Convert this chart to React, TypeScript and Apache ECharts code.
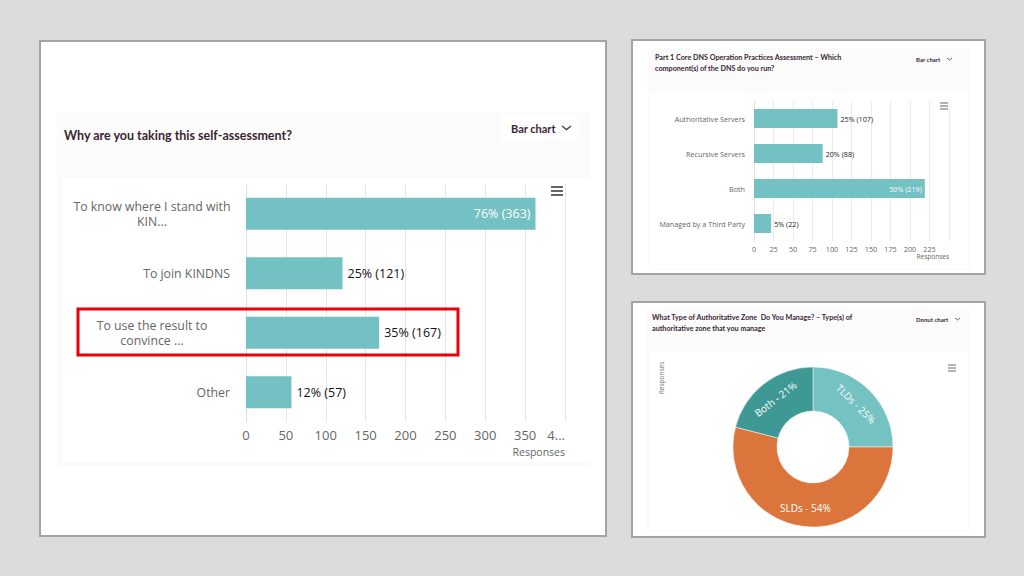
import React, { useEffect, useRef } from "react";
import * as echarts from "echarts";

// ---- Panel 1: Why are you taking this self-assessment? ----
const leftCats = ["To know where I stand with\nKIN...", "To join KINDNS", "To use the result to\nconvince ...", "Other"];
const leftCounts = [363, 121, 167, 57];
const leftPcts = [76, 25, 35, 12];
const leftTicks = ["0", "50", "100", "150", "200", "250", "300", "350", "4..."];

// ---- Panel 2: Which component(s) of the DNS do you run? ----
const dnsCats = ["Authoritative Servers", "Recursive Servers", "Both", "Managed by a Third Party"];
const dnsCounts = [107, 88, 219, 22];
const dnsPcts = [25, 20, 50, 5];
const dnsTicks = ["0", "25", "50", "75", "100", "125", "150", "175", "200", "225", ""];

// ---- Panel 3: Type(s) of authoritative zone ----
const zoneNames = ["TLDs", "SLDs", "Both"];
const zonePcts = [25, 54, 21];
const zoneColors = ["#74c2c2", "#dc753c", "#3e9995"];

const TEAL = "#73c1c2";
const FONT = "'Open Sans', sans-serif";
const TFONT = "Lato, 'Noto Sans', sans-serif";

function hamburger(x: number, y: number, w: number, gap: number, lw: number) {
  return [0, 1, 2].map((i) => ({
    type: "line",
    shape: { x1: x, y1: y + i * gap, x2: x + w, y2: y + i * gap },
    style: { stroke: "#666", lineWidth: lw },
    z: 5,
  }));
}

function chevron(x: number, y: number, s: number, lw: number) {
  return {
    type: "polyline",
    shape: { points: [[x, y], [x + s, y + s * 0.8], [x + 2 * s, y]] },
    style: { stroke: "#444", lineWidth: lw, fill: null },
    z: 5,
  };
}

export default function App() {
  const ref = useRef<HTMLDivElement>(null);

  useEffect(() => {
    if (!ref.current) return;
    const chart = echarts.init(ref.current, null, { renderer: "svg" });

    const leftMax = Math.max(...leftCounts);
    const dnsMax = Math.max(...dnsCounts);

    const option: any = {
      animation: false,
      backgroundColor: "#dcdcdc",
      graphic: [
        {
          elements: [
            // panel frames
            { type: "rect", shape: { x: 40, y: 41, width: 566, height: 495 }, style: { fill: "#fff", stroke: "#a4a4a4", lineWidth: 2 }, z: -10 },
            { type: "rect", shape: { x: 57, y: 112, width: 533, height: 354 }, style: { fill: "#fbfbfc" }, z: -9 },
            { type: "rect", shape: { x: 62, y: 178, width: 528, height: 284 }, style: { fill: "#fff" }, z: -8 },
            { type: "rect", shape: { x: 500, y: 114, width: 78, height: 28 }, style: { fill: "#fefefe" }, z: -8 },

            { type: "rect", shape: { x: 632, y: 40, width: 353, height: 234 }, style: { fill: "#fff", stroke: "#a4a4a4", lineWidth: 2 }, z: -10 },
            { type: "rect", shape: { x: 648, y: 48, width: 322, height: 222 }, style: { fill: "#fbfbfc" }, z: -9 },
            { type: "rect", shape: { x: 650, y: 92, width: 318, height: 176 }, style: { fill: "#fff" }, z: -8 },

            { type: "rect", shape: { x: 632, y: 302, width: 353, height: 235 }, style: { fill: "#fff", stroke: "#a4a4a4", lineWidth: 2 }, z: -10 },
            { type: "rect", shape: { x: 646, y: 308, width: 324, height: 224 }, style: { fill: "#fbfbfc" }, z: -9 },
            { type: "rect", shape: { x: 650, y: 352, width: 318, height: 178 }, style: { fill: "#fff" }, z: -8 },

            // titles
            { type: "text", x: 64, y: 135, style: { text: "Why are you taking this self-assessment?", font: `bold 12.5px ${TFONT}`, fill: "#3a2633", verticalAlign: "middle" }, z: 5 },
            { type: "text", x: 511, y: 128, style: { text: "Bar chart", font: `bold 11px ${TFONT}`, fill: "#3a2633", verticalAlign: "middle" }, z: 5 },
            chevron(562, 126, 4.5, 1.3),

            { type: "text", x: 655, y: 63, style: { text: "Part 1 Core DNS Operation Practices Assessment – Which\ncomponent(s) of the DNS do you run?", font: `bold 7.2px ${TFONT}`, lineHeight: 10.5, fill: "#3a2633", verticalAlign: "middle" }, z: 5 },
            { type: "text", x: 916, y: 59, style: { text: "Bar chart", font: `bold 6px ${TFONT}`, fill: "#3a2633", verticalAlign: "middle" }, z: 5 },
            chevron(947, 58, 2.5, 0.8),

            { type: "text", x: 652, y: 323, style: { text: "What Type of Authoritative Zone  Do You Manage? – Type(s) of\nauthoritative zone that you manage", font: `bold 7.2px ${TFONT}`, lineHeight: 10.5, fill: "#3a2633", verticalAlign: "middle" }, z: 5 },
            { type: "text", x: 916, y: 319, style: { text: "Donut chart", font: `bold 6px ${TFONT}`, fill: "#3a2633", verticalAlign: "middle" }, z: 5 },
            chevron(955, 318, 2.5, 0.8),

            // vertical "Responses" label in donut panel
            { type: "text", x: 661, y: 378, rotation: Math.PI / 2, style: { text: "Responses", font: `6.5px ${FONT}`, fill: "#777", align: "center", verticalAlign: "middle" }, z: 5 },

            // menu icons
            ...hamburger(551, 187, 12, 4, 2),
            ...hamburger(940, 103, 8, 3, 1),
            ...hamburger(948, 365, 8, 3, 1),

            // red highlight box
            { type: "rect", shape: { x: 78, y: 309, width: 380, height: 46 }, style: { fill: "none", stroke: "#e8000b", lineWidth: 3 }, z: 10 },
          ],
        },
      ],
      grid: [
        { left: 246, top: 184, width: 319, height: 238 },
        { left: 754, top: 101, width: 195, height: 140 },
      ],
      xAxis: [
        {
          gridIndex: 0,
          type: "value",
          min: 0,
          max: 400,
          interval: 50,
          axisLine: { show: false },
          axisTick: { show: false },
          splitLine: { lineStyle: { color: "#e6e6e6", width: 1 } },
          axisLabel: {
            color: "#666",
            fontSize: 13,
            fontFamily: FONT,
            margin: 6,
            alignMaxLabel: "right",
            formatter: (v: number) => leftTicks[Math.round(v / 50)] ?? "",
          },
          name: "Responses",
          nameLocation: "end",
          nameGap: 0,
          nameTextStyle: { color: "#666", fontSize: 10.5, fontFamily: FONT, align: "right", verticalAlign: "top", padding: [24, 0, 0, 0] },
        },
        {
          gridIndex: 1,
          type: "value",
          min: 0,
          max: 250,
          interval: 25,
          axisLine: { show: false },
          axisTick: { show: false },
          splitLine: { lineStyle: { color: "#e6e6e6", width: 0.8 } },
          axisLabel: {
            color: "#666",
            fontSize: 7.2,
            fontFamily: FONT,
            margin: 4,
            formatter: (v: number) => dnsTicks[Math.round(v / 25)] ?? "",
          },
          name: "Responses",
          nameLocation: "end",
          nameGap: 0,
          nameTextStyle: { color: "#666", fontSize: 6.5, fontFamily: FONT, align: "right", verticalAlign: "top", padding: [12, 0, 0, 0] },
        },
      ],
      yAxis: [
        {
          gridIndex: 0,
          type: "category",
          data: leftCats,
          inverse: true,
          axisLine: { show: true, lineStyle: { color: "#e0e0e0" } },
          axisTick: { show: false },
          axisLabel: {
            margin: 16,
            align: "right",
            formatter: (v: string) =>
              v.includes("\n")
                ? v.split("\n").map((l) => `{w|${l}}`).join("\n")
                : `{c|${v}}`,
            rich: {
              c: { color: "#666", fontSize: 12.3, fontFamily: FONT, lineHeight: 15 },
              w: { width: 156, align: "center", color: "#666", fontSize: 12.3, fontFamily: FONT, lineHeight: 15 },
            },
          },
        },
        {
          gridIndex: 1,
          type: "category",
          data: dnsCats,
          inverse: true,
          axisLine: { show: true, lineStyle: { color: "#e0e0e0", width: 0.8 } },
          axisTick: { show: false },
          axisLabel: { margin: 9, color: "#666", fontSize: 7.2, fontFamily: FONT },
        },
      ],
      series: [
        {
          type: "bar",
          xAxisIndex: 0,
          yAxisIndex: 0,
          barWidth: 32,
          itemStyle: { color: TEAL },
          data: leftCounts.map((v) => ({
            value: v,
            label:
              v === leftMax
                ? { position: "insideRight", color: "#fff", distance: 5 }
                : { position: "right", color: "#111", distance: 5 },
          })),
          label: {
            show: true,
            fontSize: 12.5,
            fontFamily: FONT,
            formatter: (p: any) => `${leftPcts[p.dataIndex]}% (${leftCounts[p.dataIndex]})`,
          },
        },
        {
          type: "bar",
          xAxisIndex: 1,
          yAxisIndex: 1,
          barWidth: 19,
          itemStyle: { color: TEAL },
          data: dnsCounts.map((v) => ({
            value: v,
            label:
              v === dnsMax
                ? { position: "insideRight", color: "#fff", distance: 3 }
                : { position: "right", color: "#222", distance: 3 },
          })),
          label: {
            show: true,
            fontSize: 7.2,
            fontFamily: FONT,
            formatter: (p: any) => `${dnsPcts[p.dataIndex]}% (${dnsCounts[p.dataIndex]})`,
          },
        },
        {
          type: "pie",
          center: [813, 447],
          radius: [36, 80],
          startAngle: 90,
          clockwise: true,
          itemStyle: { borderColor: "#fff", borderWidth: 0.5 },
          label: {
            show: true,
            position: "inside",
            rotate: "tangential",
            color: "#fff",
            fontSize: 10,
            fontFamily: FONT,
            formatter: (p: any) => `${p.name} - ${p.value}%`,
          },
          labelLine: { show: false },
          emphasis: { disabled: true },
          data: zoneNames.map((n, i) => ({
            name: n,
            value: zonePcts[i],
            itemStyle: { color: zoneColors[i] },
            label: n === "SLDs" ? { rotate: 0 } : undefined,
          })),
        },
      ],
    };

    chart.setOption(option);
    return () => chart.dispose();
  }, []);

  return <div ref={ref} style={{ position: "fixed", left: 0, top: 0, width: 1024, height: 576 }} />;
}
